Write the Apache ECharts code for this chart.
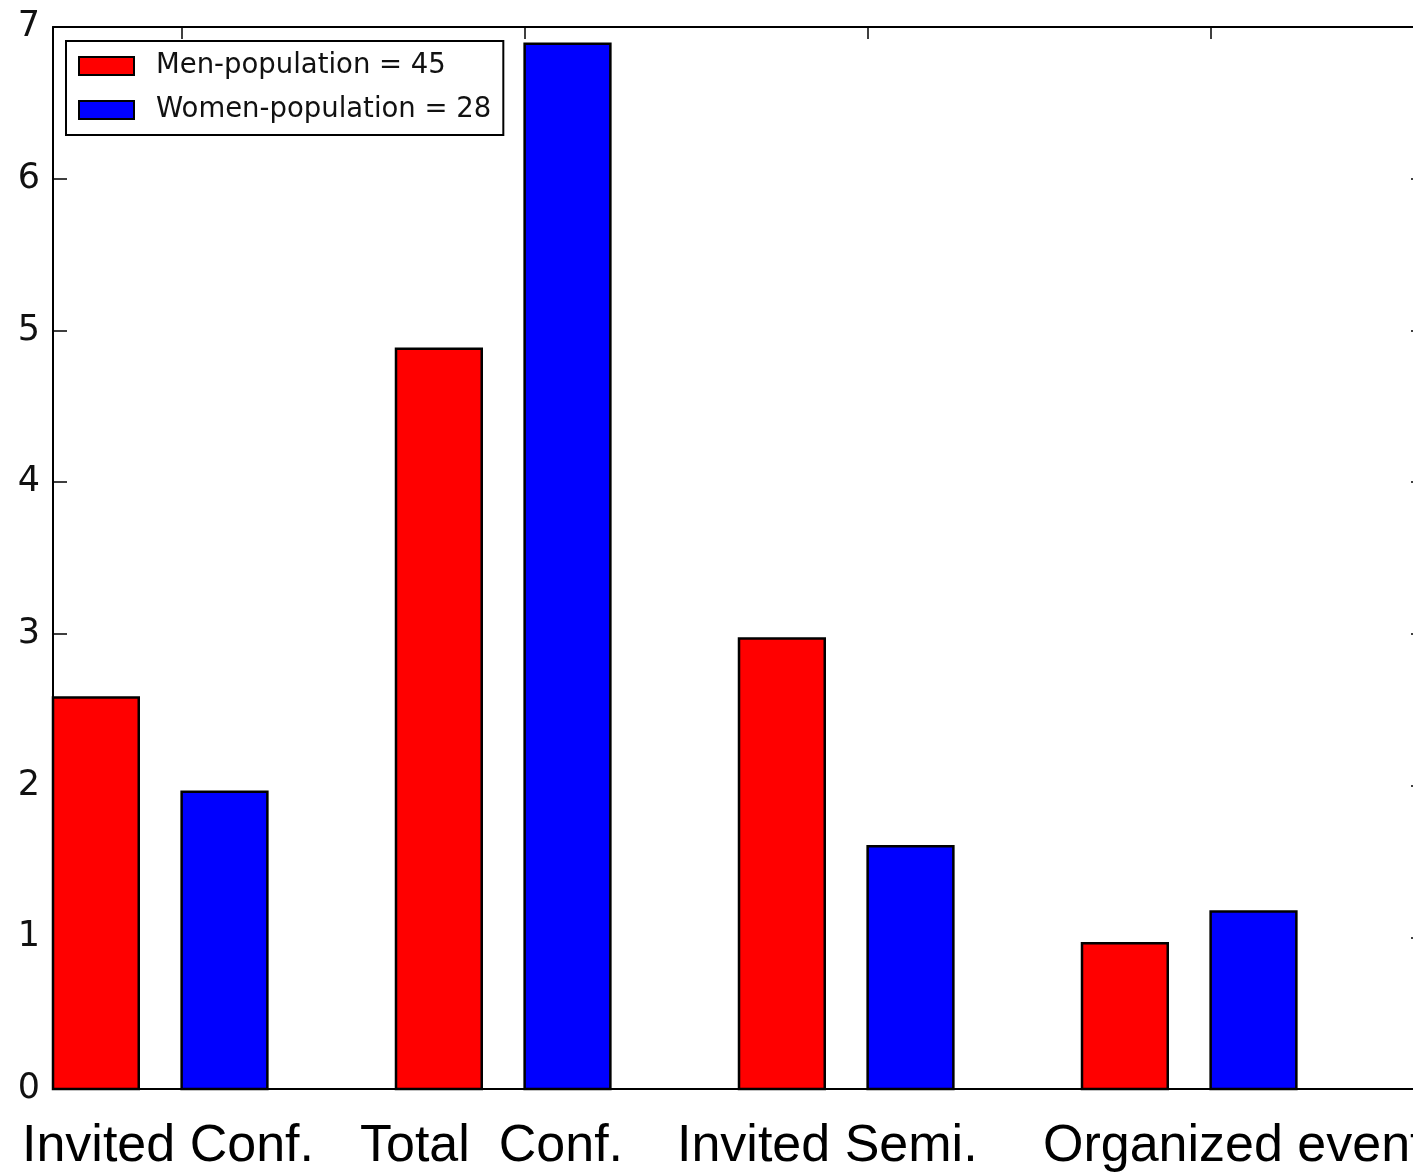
<!DOCTYPE html>
<html>
<head>
<meta charset="utf-8">
<title>Conference activity by population</title>
<script src="https://cdn.jsdelivr.net/npm/echarts@6/dist/echarts.min.js"></script>
<style>
  html, body { margin: 0; padding: 0; background: #fff; overflow: hidden; }
  /* The plot frame runs slightly past the right edge of the page */
  #chart { width: 1440px; height: 1175px; }
</style>
</head>
<body>
<div id="chart"></div>
<script>
// Activity categories and per-capita values for each population
const categories = ['Invited Conf.', 'Total  Conf.', 'Invited Semi.', 'Organized events'];
const menValues = [2.58, 4.88, 2.97, 0.96];
const womenValues = [1.96, 6.89, 1.60, 1.17];
const seriesNames = ['Men-population = 45', 'Women-population = 28'];
const yTicks = [0, 1, 2, 3, 4, 5, 6, 7];

// Bar geometry in x-axis units (one unit per category group)
const BAR_WIDTH = 0.25;
const WOMEN_OFFSET = 0.375;
// Left edges of the large category captions under the axis
const captionLeft = [22, 360, 677, 1043];

const chart = echarts.init(document.getElementById('chart'), null, { renderer: 'canvas' });

function barRenderer(offset) {
  return function (params, api) {
    const x0 = api.value(0) + offset;
    const v = api.value(1);
    const p1 = api.coord([x0, v]);
    const p2 = api.coord([x0 + BAR_WIDTH, 0]);
    return {
      type: 'rect',
      shape: { x: p1[0], y: p1[1], width: p2[0] - p1[0], height: p2[1] - p1[1] },
      style: api.style({ stroke: '#000', lineWidth: 2.5 })
    };
  };
}

const tickPositions = categories.map((c, i) => i + WOMEN_OFFSET);

const axisLineStyle = { color: '#000', width: 2 };
const tickStyle = { color: '#000', width: 1.5 };

const option = {
  backgroundColor: '#fff',
  animation: false,
  grid: { left: 53, top: 27, width: 1372, height: 1062, containLabel: false },
  xAxis: [
    {
      type: 'value', position: 'bottom', min: 0, max: 4,
      axisLine: { show: true, onZero: false, lineStyle: axisLineStyle },
      axisTick: { show: true, inside: true, length: 12, customValues: tickPositions, lineStyle: tickStyle },
      axisLabel: { show: false },
      splitLine: { show: false }
    },
    {
      type: 'value', position: 'top', min: 0, max: 4,
      axisLine: { show: true, onZero: false, lineStyle: axisLineStyle },
      axisTick: { show: true, inside: true, length: 12, customValues: tickPositions, lineStyle: tickStyle },
      axisLabel: { show: false },
      splitLine: { show: false }
    }
  ],
  yAxis: [
    {
      type: 'value', position: 'left', min: yTicks[0], max: yTicks[yTicks.length - 1], interval: 1,
      axisLine: { show: true, onZero: false, lineStyle: axisLineStyle },
      axisTick: { show: true, inside: true, length: 14, lineStyle: tickStyle },
      axisLabel: {
        show: true, margin: 13, color: '#111',
        fontFamily: 'DejaVu Sans', fontSize: 35,
        padding: [0, 0, 8, 0]
      },
      splitLine: { show: false }
    },
    {
      type: 'value', position: 'right', min: yTicks[0], max: yTicks[yTicks.length - 1], interval: 1,
      axisLine: { show: true, onZero: false, lineStyle: axisLineStyle },
      axisTick: { show: true, inside: true, length: 14, lineStyle: tickStyle },
      axisLabel: { show: false },
      splitLine: { show: false }
    }
  ],
  legend: {
    show: true,
    orient: 'vertical',
    left: 66, top: 41,
    selectedMode: false,
    backgroundColor: '#fff',
    borderColor: '#000', borderWidth: 2, borderRadius: 0,
    padding: [11, 12, 11, 12],
    itemWidth: 55, itemHeight: 18, itemGap: 16,
    icon: 'rect',
    textStyle: { fontFamily: 'DejaVu Sans', fontSize: 27.5, color: '#111', padding: [0, 0, 0, 17] },
    data: [
      { name: seriesNames[0], itemStyle: { color: '#ff0000', borderColor: '#000', borderWidth: 2 } },
      { name: seriesNames[1], itemStyle: { color: '#0000ff', borderColor: '#000', borderWidth: 2 } }
    ]
  },
  series: [
    {
      name: seriesNames[0], type: 'custom', xAxisIndex: 0, yAxisIndex: 0,
      itemStyle: { color: '#ff0000' },
      renderItem: barRenderer(0),
      encode: { x: 0, y: 1 },
      data: menValues.map((v, i) => [i, v]),
      z: 2
    },
    {
      name: seriesNames[1], type: 'custom', xAxisIndex: 0, yAxisIndex: 0,
      itemStyle: { color: '#0000ff' },
      renderItem: barRenderer(WOMEN_OFFSET),
      encode: { x: 0, y: 1 },
      data: womenValues.map((v, i) => [i, v]),
      z: 2
    }
  ],
  graphic: categories.map((c, i) => ({
    type: 'text',
    x: captionLeft[i], y: 1147,
    style: {
      text: c,
      font: '52px "Liberation Sans", Arial, sans-serif',
      fill: '#000',
      align: 'left',
      verticalAlign: 'middle'
    }
  }))
};

chart.setOption(option);
</script>
</body>
</html>
